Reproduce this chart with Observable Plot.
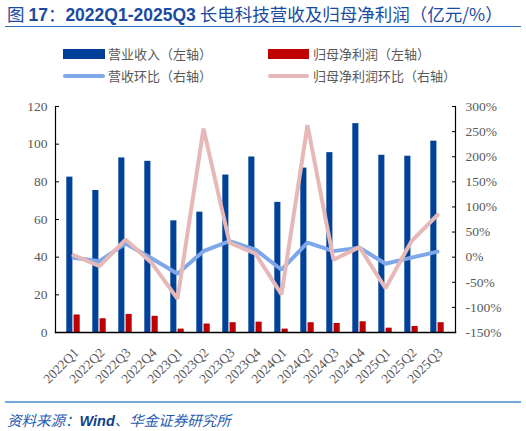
<!DOCTYPE html>
<html>
<head>
<meta charset="utf-8">
<script src="https://cdn.jsdelivr.net/npm/d3@7"></script>
<script src="https://cdn.jsdelivr.net/npm/@observablehq/plot@0.6"></script>
<style>
  body { margin: 0; background: #fff; }
  #wrap { position: relative; width: 526px; height: 431px; overflow: hidden; background: #fff; }
  #title { position: absolute; left: 7px; top: 1px; font-size: 17.5px; color: #1B4B9F; white-space: nowrap; font-family: "Noto Sans CJK SC", sans-serif; }
  #title b { font-family: "Liberation Sans", Arial, sans-serif; font-weight: bold; }
  #tline { position: absolute; left: 5px; top: 26px; width: 516px; height: 1px; background: #2F6EBA; }
  .lg { position: absolute; font-family: "Noto Sans CJK SC", sans-serif; font-size: 13px; color: #595959; white-space: nowrap; line-height: 14px; }
  .sw { position: absolute; }
  #chart { position: absolute; left: 0; top: 92px; }
  #fline { position: absolute; left: 5px; top: 401px; width: 516px; height: 1.5px; background: #74AADB; }
  #foot { position: absolute; left: 7px; top: 409px; font-size: 14.5px; color: #1F5BB0; font-style: italic; white-space: nowrap; font-family: "Noto Sans CJK SC", sans-serif; }
  #foot b { font-family: "Liberation Sans", Arial, sans-serif; color: #103F8A; }
</style>
</head>
<body>
<div id="wrap">
  <div id="title">图 <b>17</b>：<b>2022Q1-2025Q3</b> 长电科技营收及归母净利润（亿元/%）</div>
  <div id="tline"></div>
  <div class="sw" style="left:63px;top:49px;width:42px;height:10px;background:#004098"></div>
  <div class="lg" style="left:108px;top:47px">营业收入（左轴）</div>
  <div class="sw" style="left:268px;top:49px;width:41px;height:10px;background:#C00000"></div>
  <div class="lg" style="left:313px;top:47px">归母净利润（左轴）</div>
  <div class="sw" style="left:63px;top:74px;width:42px;height:4px;border-radius:2px;background:#7DA7E8"></div>
  <div class="lg" style="left:108px;top:69px">营收环比（右轴）</div>
  <div class="sw" style="left:268px;top:74px;width:41px;height:4px;border-radius:2px;background:#E6B8B7"></div>
  <div class="lg" style="left:313px;top:69px">归母净利润环比（右轴）</div>
  <div id="chart"></div>
  <div id="fline"></div>
  <div id="foot">资料来源：<b>Wind</b>、华金证券研究所</div>
</div>
<script>
const quarters = ["2022Q1","2022Q2","2022Q3","2022Q4","2023Q1","2023Q2","2023Q3","2023Q4","2024Q1","2024Q2","2024Q3","2024Q4","2025Q1","2025Q2","2025Q3"];
const revenue = [82.5, 75.4, 92.7, 90.9, 59.3, 63.9, 83.6, 93.2, 69.1, 87.3, 95.5, 110.9, 94.1, 93.6, 101.6];
const netProfit = [9.3, 7.3, 9.6, 8.6, 1.8, 4.5, 5.2, 5.5, 1.8, 5.2, 4.8, 5.7, 2.3, 3.2, 5.2];
const revenueQoQ = [-1, -8, 27, -2, -33, 12, 32, 15, -25, 29, 12, 19, -13, -1, 11];
const profitQoQ = [4, -18, 35, -11, -83, 256, 29, 7, -74, 263, -5, 20, -62, 32, 84];
const leftTicks = [0, 20, 40, 60, 80, 100, 120];
const rightTicks = [-150, -100, -50, 0, 50, 100, 150, 200, 250, 300];

const rightMin = -150, rightMax = 300, leftMax = 120;
const toLeft = p => (p - rightMin) * leftMax / (rightMax - rightMin);
const toRight = v => Math.round(v * (rightMax - rightMin) / leftMax + rightMin);

const data = quarters.map((q, i) => ({q, rev: revenue[i], np: netProfit[i], rq: revenueQoQ[i], pq: profitQoQ[i]}));

const chart = Plot.plot({
  width: 526,
  height: 308,
  marginLeft: 55,
  marginRight: 71,
  marginTop: 14,
  marginBottom: 68,
  style: {fontFamily: "'Liberation Serif', 'Times New Roman', serif", fontSize: "13.5px", color: "#595959", background: "transparent"},
  x: {type: "band", domain: quarters, padding: 0},
  y: {domain: [0, leftMax]},
  marks: [
    Plot.barY(data, {x: "q", y: "rev", fill: "#00419A", insetLeft: 6.3, insetRight: 13.6}),
    Plot.barY(data, {x: "q", y: "np", fill: "#C00000", insetLeft: 13.6, insetRight: 6.3}),
    Plot.line(data, {x: "q", y: d => toLeft(d.rq), stroke: "#7DA7E8", strokeWidth: 4, strokeLinejoin: "miter"}),
    Plot.line(data, {x: "q", y: d => toLeft(d.pq), stroke: "#E6B8B7", strokeWidth: 4, strokeLinejoin: "miter"}),
    Plot.frame({anchor: "left", stroke: "#000", strokeWidth: 1.2}),
    Plot.frame({anchor: "right", stroke: "#000", strokeWidth: 1.2}),
    Plot.frame({anchor: "bottom", stroke: "#000", strokeWidth: 1.5}),
    Plot.axisY(leftTicks, {anchor: "left", tickSize: -4, tickPadding: 12, stroke: "#000", label: null}),
    Plot.axisY(rightTicks.map(toLeft), {anchor: "right", tickSize: -4, tickPadding: 14, stroke: "#000", tickFormat: d => toRight(d) + "%", label: null}),
    Plot.axisX({tickSize: 0, tickRotate: -45, tickPadding: 18, dx: 3, label: null, fontSize: 13.5})
  ]
});
document.getElementById("chart").appendChild(chart);
</script>
</body>
</html>
